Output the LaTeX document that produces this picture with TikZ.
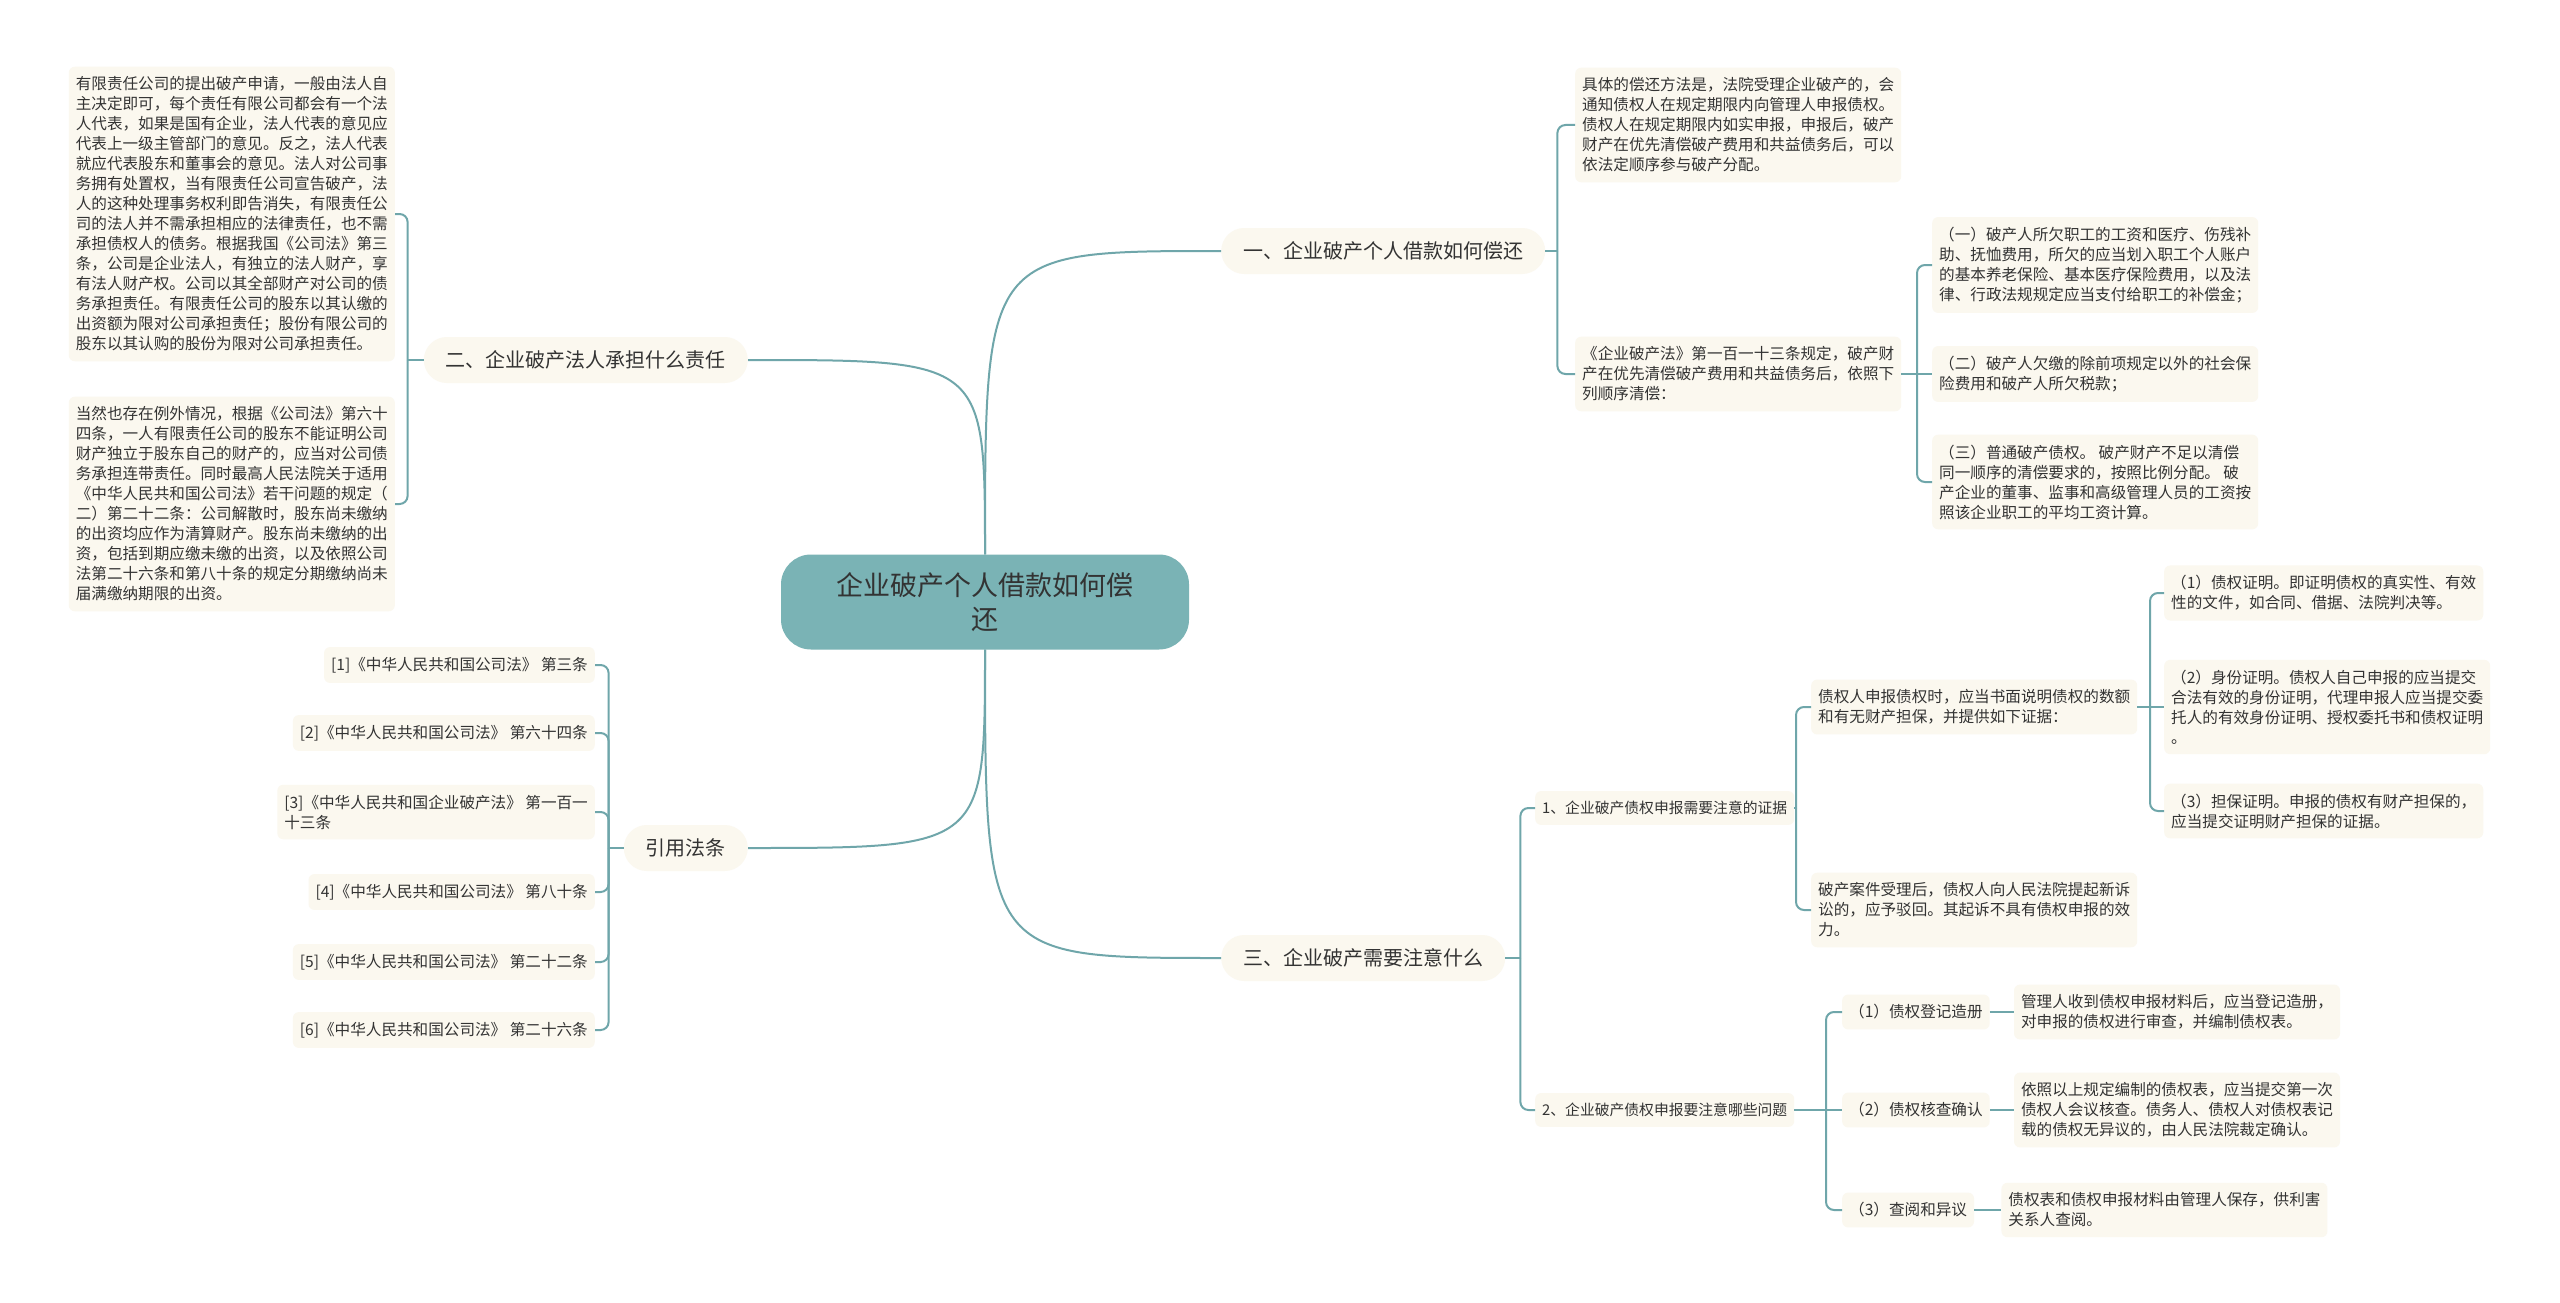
\documentclass[tikz,border=0pt]{standalone}
\usepackage{fontspec}
\setmainfont{Noto Sans CJK SC}
\usepackage{xcolor}
\usepackage{tikz}
\usetikzlibrary{positioning}

\definecolor{rootfill}{RGB}{122,179,181}
\definecolor{boxfill}{RGB}{251,248,239}
\definecolor{linec}{RGB}{111,166,170}
\definecolor{textc}{RGB}{51,51,51}

\tikzset{
  root/.style={fill=rootfill, text=textc, rounded corners=30pt, minimum width=408pt,
    minimum height=95pt, align=center, font=\fontsize{27pt}{34pt}\selectfont},
  topic/.style={fill=boxfill, text=textc, rounded corners=23pt, minimum height=46pt,
    inner xsep=22pt, font=\fontsize{20pt}{24pt}\selectfont},
  note/.style={fill=boxfill, text=textc, rounded corners=6pt, align=left,
    inner xsep=7pt, inner ysep=10pt, font=\fontsize{15.6pt}{20pt}\selectfont},
  sub/.style={note, font=\fontsize{14.8pt}{20pt}\selectfont},
  link/.style={draw=linec, line width=2pt, rounded corners=8pt},
  curve/.style={draw=linec, line width=2pt}
}

\begin{document}
\begin{tikzpicture}[x=1pt, y=-1pt]
    \fill[white] (0,0) rectangle (2560,1303);
    \useasboundingbox (0,0) rectangle (2560,1303);

    % centre and main topics
    \node[root] (root) at (985,602) {企业破产个人借款如何偿\\还};
    \node[topic, anchor=west] (yi) at (1221,251) {一、企业破产个人借款如何偿还};
    \node[topic, anchor=east] (er) at (748,360) {二、企业破产法人承担什么责任};
    \node[topic, anchor=east] (yin) at (748,848) {引用法条};
    \node[topic, anchor=west] (san) at (1221,958) {三、企业破产需要注意什么};

    \draw[curve] (root.north) .. controls (root.north |- yi.west) .. (yi.west);
    \draw[curve] (root.north) .. controls (root.north |- er.east) .. (er.east);
    \draw[curve] (root.south) .. controls (root.south |- yin.east) .. (yin.east);
    \draw[curve] (root.south) .. controls (root.south |- san.west) .. (san.west);

    % 一
    \node[note, anchor=west] (yiA) at (1575,125) {具体的偿还方法是，法院受理企业破产的，会\\
      通知债权人在规定期限内向管理人申报债权。\\
      债权人在规定期限内如实申报，申报后，破产\\
      财产在优先清偿破产费用和共益债务后，可以\\
      依法定顺序参与破产分配。};
    \node[note, anchor=west] (yiB) at (1575,374) {《企业破产法》第一百一十三条规定，破产财\\
      产在优先清偿破产费用和共益债务后，依照下\\
      列顺序清偿：};
    \coordinate (jyi) at ([xshift=12pt]yi.east);
    \draw[link] (yi.east) -- (jyi);
    \draw[link] (jyi) |- (yiA.west);
    \draw[link] (jyi) |- (yiB.west);

    \node[note, anchor=west] (yi1) at (1932,265) {（一）破产人所欠职工的工资和医疗、伤残补\\
      助、抚恤费用，所欠的应当划入职工个人账户\\
      的基本养老保险、基本医疗保险费用，以及法\\
      律、行政法规规定应当支付给职工的补偿金；};
    \node[note, anchor=west] (yi2) at (1932,374) {（二）破产人欠缴的除前项规定以外的社会保\\
      险费用和破产人所欠税款；};
    \node[note, anchor=west] (yi3) at (1932,482) {（三）普通破产债权。 破产财产不足以清偿\\
      同一顺序的清偿要求的，按照比例分配。 破\\
      产企业的董事、监事和高级管理人员的工资按\\
      照该企业职工的平均工资计算。};
    \coordinate (jyiB) at (1917,374);
    \draw[link] (yiB.east) -- (yi2.west);
    \draw[link] (jyiB) |- (yi1.west);
    \draw[link] (jyiB) |- (yi3.west);

    % 二
    \node[note, anchor=east] (erA) at (395,214) {有限责任公司的提出破产申请，一般由法人自\\
      主决定即可，每个责任有限公司都会有一个法\\
      人代表，如果是国有企业，法人代表的意见应\\
      代表上一级主管部门的意见。反之，法人代表\\
      就应代表股东和董事会的意见。法人对公司事\\
      务拥有处置权，当有限责任公司宣告破产，法\\
      人的这种处理事务权利即告消失，有限责任公\\
      司的法人并不需承担相应的法律责任，也不需\\
      承担债权人的债务。根据我国《公司法》第三\\
      条，公司是企业法人，有独立的法人财产，享\\
      有法人财产权。公司以其全部财产对公司的债\\
      务承担责任。有限责任公司的股东以其认缴的\\
      出资额为限对公司承担责任；股份有限公司的\\
      股东以其认购的股份为限对公司承担责任。};
    \node[note, anchor=east] (erB) at (395,504) {当然也存在例外情况，根据《公司法》第六十\\
      四条，一人有限责任公司的股东不能证明公司\\
      财产独立于股东自己的财产的，应当对公司债\\
      务承担连带责任。同时最高人民法院关于适用\\
      《中华人民共和国公司法》若干问题的规定（\\
      二）第二十二条：公司解散时，股东尚未缴纳\\
      的出资均应作为清算财产。股东尚未缴纳的出\\
      资，包括到期应缴未缴的出资，以及依照公司\\
      法第二十六条和第八十条的规定分期缴纳尚未\\
      届满缴纳期限的出资。};
    \coordinate (jer) at ([xshift=-16pt]er.west);
    \draw[link] (er.west) -- (jer);
    \draw[link] (jer) |- (erA.east);
    \draw[link] (jer) |- (erB.east);

    % 引用法条
    \foreach \n/\y/\t in {1/665/{[1]《中华人民共和国公司法》 第三条},
                          2/733/{[2]《中华人民共和国公司法》 第六十四条},
                          3/812/{[3]《中华人民共和国企业破产法》 第一百一\\十三条},
                          4/892/{[4]《中华人民共和国公司法》 第八十条},
                          5/962/{[5]《中华人民共和国公司法》 第二十二条},
                          6/1030/{[6]《中华人民共和国公司法》 第二十六条}}
    {
        \node[note, anchor=east] (cit\n) at (595,\y) {\t};
    }
    \coordinate (jyin) at ([xshift=-15pt]yin.west);
    \draw[link] (yin.west) -- (jyin);
    \foreach \n in {1,...,6}
        \draw[link] (jyin) |- (cit\n.east);

    % 三
    \node[sub, anchor=west] (s1) at (1535,808) {1、企业破产债权申报需要注意的证据};
    \node[sub, anchor=west] (s2) at (1535,1110) {2、企业破产债权申报要注意哪些问题};
    \coordinate (jsan) at ([xshift=15pt]san.east);
    \draw[link] (san.east) -- (jsan);
    \draw[link] (jsan) |- (s1.west);
    \draw[link] (jsan) |- (s2.west);

    \node[note, anchor=west] (c1) at (1811,707) {债权人申报债权时，应当书面说明债权的数额\\
      和有无财产担保，并提供如下证据：};
    \node[note, anchor=west] (c2) at (1811,910) {破产案件受理后，债权人向人民法院提起新诉\\
      讼的，应予驳回。其起诉不具有债权申报的效\\
      力。};
    \coordinate (js1) at (1796,808);
    \draw[link] (s1.east) -- (js1);
    \draw[link] (js1) |- (c1.west);
    \draw[link] (js1) |- (c2.west);

    \node[note, anchor=west] (p1) at (2164,593) {（1）债权证明。即证明债权的真实性、有效\\
      性的文件，如合同、借据、法院判决等。};
    \node[note, anchor=west] (p2) at (2164,707) {（2）身份证明。债权人自己申报的应当提交\\
      合法有效的身份证明，代理申报人应当提交委\\
      托人的有效身份证明、授权委托书和债权证明\\
      。};
    \node[note, anchor=west] (p3) at (2164,811) {（3）担保证明。申报的债权有财产担保的，\\
      应当提交证明财产担保的证据。};
    \coordinate (jc1) at (2150,707);
    \draw[link] (c1.east) -- (p2.west);
    \draw[link] (jc1) |- (p1.west);
    \draw[link] (jc1) |- (p3.west);

    \node[note, anchor=west] (k1) at (1842,1012) {（1）债权登记造册};
    \node[note, anchor=west] (k2) at (1842,1110) {（2）债权核查确认};
    \node[note, anchor=west] (k3) at (1842,1210) {（3）查阅和异议};
    \coordinate (js2) at (1826,1110);
    \draw[link] (s2.east) -- (k2.west);
    \draw[link] (js2) |- (k1.west);
    \draw[link] (js2) |- (k3.west);

    \node[note, right=24pt of k1] (k1a) {管理人收到债权申报材料后，应当登记造册，\\
      对申报的债权进行审查，并编制债权表。};
    \node[note, right=24pt of k2] (k2a) {依照以上规定编制的债权表，应当提交第一次\\
      债权人会议核查。债务人、债权人对债权表记\\
      载的债权无异议的，由人民法院裁定确认。};
    \node[note, right=27pt of k3] (k3a) {债权表和债权申报材料由管理人保存，供利害\\
      关系人查阅。};
    \draw[link] (k1.east) -- (k1a.west);
    \draw[link] (k2.east) -- (k2a.west);
    \draw[link] (k3.east) -- (k3a.west);
\end{tikzpicture}
\end{document}
